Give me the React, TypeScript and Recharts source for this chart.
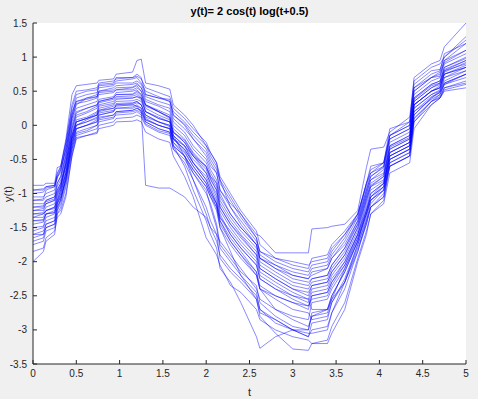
import React from 'react';
import {
  LineChart,
  Line,
  XAxis,
  YAxis,
  CartesianGrid,
} from 'recharts';

// sample times; close pairs give the steep jumps of the runs
const T = [
  0, 0.12, 0.15, 0.25, 0.28, 0.32, 0.38, 0.45,
  0.5, 0.62, 0.74, 0.76, 0.93, 0.96, 1.15, 1.2,
  1.25, 1.3, 1.45, 1.58, 1.62, 1.75, 1.85, 2.0,
  2.05, 2.12, 2.16, 2.28, 2.4, 2.58, 2.62, 2.8,
  3.0, 3.18, 3.22, 3.4, 3.45, 3.6, 3.75, 3.85,
  3.9, 4.05, 4.12, 4.35, 4.4, 4.6, 4.7, 4.75, 5.0,
];

const r1 = [-0.88,-0.88,-0.85,-0.85,-0.62,-0.6,-0.2,0.45, 0.58,0.6,0.62,0.66,0.68,0.75,0.78,0.95, 0.97,0.62,0.58,0.53,0.3,0.15,0.0,-0.3, -0.4,-0.55,-0.8,-1.05,-1.3,-1.65,-1.85,-1.95, -2.05,-2.1,-1.95,-1.9,-1.75,-1.55,-1.3,-0.9, -0.7,-0.6,-0.15,0.0,0.55,0.7,0.72,0.95,1.1];
const r2 = [-1.05,-1.05,-1.0,-0.95,-0.75,-0.7,-0.3,0.2, 0.35,0.4,0.42,0.5,0.52,0.55,0.56,0.6, 0.55,0.42,0.35,0.3,0.1,-0.05,-0.2,-0.45, -0.6,-0.7,-0.95,-1.15,-1.3,-1.6,-1.62,-1.87, -1.87,-1.87,-1.52,-1.5,-1.48,-1.45,-1.25,-0.62, -0.35,-0.32,-0.1,0.12,0.65,0.85,0.9,1.0,1.25];
const r3 = [-1.1,-1.08,-0.95,-0.9,-0.78,-0.65,-0.35,0.15, 0.4,0.45,0.48,0.55,0.58,0.62,0.62,0.65, 0.6,0.45,0.4,0.38,0.15,0.02,-0.15,-0.35, -0.5,-0.65,-0.8,-1.2,-1.4,-1.7,-1.85,-2.0, -2.1,-2.15,-2.05,-2.0,-1.85,-1.6,-1.35,-0.85, -0.6,-0.55,-0.05,0.05,0.7,0.9,0.95,1.15,1.5];
const r4 = [-2.0,-1.85,-1.7,-1.6,-1.3,-1.25,-1.0,-0.45, -0.2,-0.15,-0.1,0.0,0.05,0.1,0.12,0.15, 0.12,0.0,-0.1,-0.15,-0.35,-0.55,-0.8,-1.2, -1.4,-1.6,-1.95,-2.15,-2.3,-2.55,-2.75,-2.85, -3.0,-3.1,-2.9,-2.85,-2.6,-2.25,-1.75,-1.4, -1.15,-0.95,-0.6,-0.45,0.05,0.35,0.45,0.6,0.75];
const r5 = [-1.15,-1.15,-1.1,-1.05,-0.95,-0.85,-0.6,-0.15, 0.05,0.1,0.15,0.22,0.25,0.28,0.3,0.28, 0.2,-0.88,-0.92,-0.92,-0.95,-1.05,-1.2,-1.35, -1.5,-1.6,-1.7,-1.9,-2.1,-2.4,-2.55,-2.7, -2.8,-2.85,-2.6,-2.55,-2.4,-2.1,-1.7,-1.25, -1.05,-0.85,-0.45,-0.3,0.3,0.5,0.55,0.75,0.85];
const r6 = [-1.55,-1.5,-1.4,-1.35,-1.2,-1.1,-0.8,-0.35, -0.1,-0.05,0.0,0.1,0.15,0.2,0.22,0.25, 0.22,0.05,-0.05,-0.1,-0.3,-0.6,-0.95,-1.4, -1.6,-1.8,-2.1,-2.3,-2.6,-3.1,-3.27,-3.1, -3.0,-3.0,-2.8,-2.7,-2.55,-2.3,-1.8,-1.45, -1.2,-1.0,-0.55,-0.4,0.1,0.35,0.4,0.55,0.65];
const r7 = [-1.4,-1.4,-1.3,-1.25,-1.1,-0.95,-0.7,-0.2, 0.0,0.05,0.12,0.18,0.22,0.25,0.27,0.3, 0.25,0.1,0.0,-0.05,-0.25,-0.4,-0.6,-0.85, -1.0,-1.2,-1.5,-1.85,-2.2,-2.55,-2.8,-3.05, -3.28,-3.3,-3.2,-3.2,-3.05,-2.7,-2.0,-1.6, -1.3,-1.1,-0.6,-0.45,0.05,0.3,0.4,0.5,0.55];
const r8 = [-1.3,-1.28,-1.2,-1.15,-1.0,-0.9,-0.55,-0.1, 0.12,0.18,0.25,0.33,0.38,0.42,0.43,0.45, 0.4,0.25,0.15,0.08,-0.15,-0.3,-0.5,-0.7, -0.85,-1.0,-1.25,-1.5,-1.7,-1.95,-2.15,-2.3, -2.45,-2.55,-2.4,-2.35,-2.2,-1.95,-1.55,-1.1, -0.9,-0.8,-0.35,-0.2,0.35,0.55,0.6,0.8,0.9];
const r9 = [-1.0,-0.98,-0.92,-0.9,-0.72,-0.62,-0.25,0.25, 0.45,0.5,0.52,0.58,0.6,0.65,0.68,0.7, 0.62,0.5,0.42,0.35,0.2,0.05,-0.1,-0.3, -0.45,-0.6,-0.85,-1.1,-1.35,-1.65,-1.9,-2.05, -2.2,-2.25,-2.2,-2.1,-1.95,-1.7,-1.35,-0.95, -0.75,-0.62,-0.2,-0.05,0.5,0.7,0.78,0.95,1.2];
const r10 = [-1.6,-1.55,-1.45,-1.4,-1.15,-1.05,-0.75,-0.3, -0.05,0.0,0.05,0.15,0.2,0.3,0.3,0.33, 0.3,0.12,0.05,0.0,-0.25,-0.45,-0.7,-1.0, -1.15,-1.45,-1.75,-1.95,-2.15,-2.35,-2.6,-2.8, -2.95,-3.0,-2.75,-2.7,-2.5,-2.15,-1.7,-1.3, -1.1,-0.95,-0.5,-0.35,0.15,0.4,0.5,0.65,0.8];
const r11 = [-1.75,-1.7,-1.55,-1.5,-1.3,-1.2,-0.9,-0.4, -0.15,-0.1,-0.05,0.05,0.1,0.18,0.2,0.22, 0.18,0.05,-0.05,-0.1,-0.3,-0.45,-0.65,-0.9, -1.05,-1.2,-1.4,-1.7,-1.9,-2.15,-2.35,-2.5, -2.6,-2.7,-2.5,-2.45,-2.3,-2.0,-1.6,-1.25, -1.0,-0.85,-0.45,-0.3,0.25,0.45,0.52,0.7,0.85];
const r12 = [-1.2,-1.18,-1.1,-1.05,-0.85,-0.75,-0.4,0.1, 0.3,0.4,0.45,0.6,0.62,0.7,0.7,0.72, 0.68,0.55,0.48,0.42,0.25,0.1,-0.05,-0.25, -0.4,-0.55,-0.75,-1.0,-1.25,-1.55,-1.75,-1.95, -2.0,-2.05,-2.0,-1.95,-1.8,-1.6,-1.3,-0.85, -0.65,-0.55,-0.15,0.05,0.6,0.8,0.82,1.0,1.3];
const r13 = [-1.45,-1.42,-1.3,-1.28,-1.12,-1.0,-0.7,-0.2, 0.0,0.08,0.15,0.22,0.28,0.32,0.33,0.35, 0.3,0.15,0.05,-0.02,-0.2,-0.35,-0.55,-0.8, -0.95,-1.15,-1.4,-1.65,-1.85,-2.15,-2.4,-2.55, -2.7,-2.75,-2.85,-2.8,-2.6,-2.3,-1.85,-1.45, -1.2,-1.05,-0.5,-0.35,0.2,0.42,0.48,0.62,0.75];
const r14 = [-1.25,-1.25,-1.15,-1.1,-0.95,-0.85,-0.5,0.0, 0.2,0.25,0.3,0.38,0.42,0.48,0.5,0.52, 0.45,0.3,0.22,0.15,-0.05,-0.2,-0.4,-0.6, -0.75,-0.9,-1.15,-1.4,-1.6,-1.85,-2.05,-2.2, -2.35,-2.4,-2.3,-2.25,-2.1,-1.85,-1.45,-1.0, -0.8,-0.7,-0.3,-0.15,0.4,0.6,0.65,0.85,1.0];
const r15 = [-1.35,-1.3,-1.25,-1.22,-1.05,-0.92,-0.6,-0.15, 0.08,0.12,0.2,0.28,0.32,0.38,0.4,0.42, 0.38,0.2,0.1,0.05,-0.2,-0.35,-0.55,-0.75, -0.9,-1.1,-1.35,-1.6,-1.8,-2.05,-2.25,-2.4, -2.55,-2.65,-2.5,-2.45,-2.3,-2.05,-1.6,-1.15, -0.95,-0.82,-0.4,-0.25,0.3,0.5,0.55,0.75,0.88];
const r16 = [-1.7,-1.65,-1.5,-1.45,-1.25,-1.15,-0.85,-0.35, -0.12,-0.08,0.0,0.08,0.12,0.15,0.17,0.2, 0.15,0.02,-0.08,-0.12,-0.35,-0.5,-0.7,-0.95, -1.2,-1.5,-1.8,-2.0,-2.2,-2.45,-2.7,-2.85, -3.0,-3.05,-3.05,-3.0,-2.75,-2.3,-1.75,-1.35, -1.1,-0.9,-0.5,-0.35,0.2,0.38,0.45,0.6,0.7];
const r17 = [-0.95,-0.93,-0.9,-0.88,-0.7,-0.6,-0.25,0.3, 0.5,0.52,0.55,0.62,0.65,0.68,0.7,0.75, 0.7,0.45,0.4,0.35,0.15,0.0,-0.2,-0.4, -0.55,-0.7,-0.95,-1.2,-1.45,-1.75,-1.95,-2.1, -2.25,-2.3,-2.25,-2.2,-2.05,-1.8,-1.4,-1.0, -0.8,-0.65,-0.25,-0.1,0.45,0.65,0.7,0.9,1.05];
const r18 = [-1.5,-1.48,-1.35,-1.3,-1.15,-1.0,-0.7,-0.25, 0.0,0.05,0.1,0.2,0.25,0.3,0.32,0.35, 0.3,0.15,0.05,0.0,-0.2,-0.38,-0.6,-0.85, -1.0,-1.15,-1.45,-1.7,-1.9,-2.2,-2.4,-2.7, -2.85,-2.95,-2.8,-2.75,-2.55,-2.1,-1.65,-1.25, -1.05,-0.9,-0.45,-0.3,0.25,0.45,0.5,0.7,0.8];
const r19 = [-1.2,-1.2,-1.12,-1.08,-0.9,-0.8,-0.45,0.05, 0.25,0.3,0.35,0.45,0.48,0.52,0.55,0.58, 0.5,0.35,0.28,0.2,0.0,-0.15,-0.35,-0.55, -0.7,-0.85,-1.1,-1.35,-1.55,-1.8,-2.0,-2.15, -2.3,-2.35,-2.25,-2.2,-2.05,-1.8,-1.45,-1.05, -0.85,-0.72,-0.3,-0.15,0.4,0.6,0.65,0.85,0.98];
const r20 = [-1.85,-1.8,-1.65,-1.55,-1.35,-1.3,-1.05,-0.45, -0.18,-0.15,-0.12,-0.05,0.0,0.05,0.06,0.08, 0.05,-0.1,-0.2,-0.25,-0.45,-0.75,-1.05,-1.65, -1.75,-1.9,-2.05,-2.35,-2.45,-2.7,-2.85,-3.0, -3.1,-3.15,-3.2,-3.15,-2.95,-2.6,-1.95,-1.55, -1.3,-1.15,-0.7,-0.55,-0.05,0.3,0.4,0.52,0.6];
const r21 = [-1.3,-1.3,-1.25,-1.2,-1.1,-0.95,-0.65,-0.15, 0.05,0.1,0.15,0.25,0.3,0.35,0.36,0.38, 0.35,0.2,0.1,0.05,-0.1,-0.25,-0.45,-0.7, -0.85,-1.05,-1.3,-1.6,-1.8,-2.05,-2.25,-2.4, -2.5,-2.55,-2.7,-2.7,-2.5,-2.15,-1.7,-1.3, -1.05,-0.9,-0.4,-0.25,0.3,0.5,0.55,0.78,0.92];
const r22 = [-1.1,-1.1,-1.05,-1.0,-0.85,-0.75,-0.45,0.1, 0.32,0.35,0.4,0.5,0.55,0.58,0.6,0.62, 0.55,0.38,0.3,0.25,0.05,-0.1,-0.3,-0.5, -0.65,-0.8,-1.0,-1.3,-1.5,-1.75,-1.95,-2.1, -2.2,-2.25,-2.15,-2.1,-1.95,-1.75,-1.4,-0.95, -0.75,-0.6,-0.2,-0.05,0.5,0.7,0.75,0.92,1.1];
const r23 = [-1.6,-1.6,-1.5,-1.45,-1.25,-1.1,-0.75,-0.25, -0.05,0.0,0.08,0.15,0.2,0.25,0.25,0.28, 0.25,0.08,0.0,-0.05,-0.3,-0.45,-0.65,-0.9, -1.05,-1.25,-1.5,-1.75,-1.95,-2.2,-2.4,-2.5, -2.6,-2.65,-2.55,-2.5,-2.35,-2.05,-1.65,-1.3, -1.1,-0.95,-0.55,-0.4,0.15,0.4,0.48,0.62,0.75];
const r24 = [-1.35,-1.35,-1.25,-1.2,-1.02,-0.9,-0.55,-0.05, 0.15,0.2,0.28,0.35,0.4,0.45,0.45,0.48, 0.42,0.28,0.2,0.12,-0.1,-0.25,-0.45,-0.65, -0.8,-0.95,-1.2,-1.45,-1.65,-1.9,-2.1,-2.25, -2.4,-2.45,-2.35,-2.3,-2.15,-1.9,-1.5,-1.1, -0.9,-0.75,-0.35,-0.2,0.35,0.55,0.62,0.8,0.95];
const r25 = [-0.95,-0.95,-0.9,-0.88,-0.75,-0.65,-0.35,0.15, 0.35,0.38,0.42,0.48,0.5,0.52,0.52,0.55, 0.5,0.3,0.2,0.1,-0.15,-0.45,-0.8,-1.3, -1.5,-1.7,-1.9,-2.1,-2.25,-2.5,-2.7,-2.9, -3.0,-3.1,-3.0,-2.95,-2.75,-2.4,-1.85,-1.4, -1.2,-1.05,-0.6,-0.45,0.1,0.35,0.42,0.55,0.62];
const r26 = [-1.65,-1.6,-1.45,-1.4,-1.2,-1.08,-0.8,-0.3, -0.05,0.0,0.05,0.12,0.15,0.2,0.22,0.25, 0.2,0.08,0.0,-0.05,-0.2,-0.3,-0.45,-0.6, -0.75,-0.85,-1.05,-1.3,-1.5,-1.75,-1.95,-2.05, -2.15,-2.2,-2.1,-2.05,-1.9,-1.65,-1.3,-0.85, -0.7,-0.55,-0.15,0.0,0.55,0.75,0.8,1.05,1.2];
const r27 = [-1.4,-1.38,-1.3,-1.28,-1.15,-1.05,-0.8,-0.2, 0.05,0.1,0.18,0.3,0.35,0.4,0.4,0.42, 0.4,0.2,0.12,0.05,-0.15,-0.3,-0.55,-0.8, -0.95,-1.15,-1.35,-1.55,-1.75,-2.0,-2.2,-2.35, -2.5,-2.6,-2.45,-2.4,-2.25,-2.0,-1.6,-1.2, -1.0,-0.85,-0.4,-0.25,0.3,0.5,0.58,0.75,0.85];
const r28 = [-1.25,-1.22,-1.15,-1.1,-0.98,-0.88,-0.55,-0.05, 0.18,0.25,0.3,0.35,0.4,0.45,0.46,0.5, 0.45,0.3,0.2,0.12,-0.1,-0.22,-0.42,-0.62, -0.78,-0.95,-1.2,-1.45,-1.62,-1.9,-2.1,-2.25, -2.4,-2.5,-2.35,-2.3,-2.15,-1.9,-1.5,-1.05, -0.88,-0.75,-0.32,-0.18,0.38,0.58,0.62,0.82,0.95];

const RUNS = [r1, r2, r3, r4, r5, r6, r7, r8, r9, r10, r11, r12, r13, r14, r15, r16, r17, r18, r19, r20, r21, r22, r23, r24, r25, r26, r27, r28];

const X_TICKS = [0, 0.5, 1, 1.5, 2, 2.5, 3, 3.5, 4, 4.5, 5];
const Y_TICKS = [-3.5, -3, -2.5, -2, -1.5, -1, -0.5, 0, 0.5, 1, 1.5];

const TITLE = 'y(t)= 2 cos(t) log(t+0.5)';
const X_LABEL = 't';
const Y_LABEL = 'y(t)';

const rows = T.map((t, i) => {
  const row: Record<string, number> = { t };
  RUNS.forEach((r, k) => {
    row[`r${k + 1}`] = r[i];
  });
  return row;
});

const FONT = '"Liberation Sans", Arial, Helvetica, sans-serif';
const AXIS = '#262626';
const tickStyle = { fill: AXIS, fontSize: 10, fontFamily: FONT };

export default function App() {
  return (
    <div
      style={{
        position: 'absolute',
        left: 0,
        top: 0,
        width: 478,
        height: 399,
        background: '#f0f0f0',
        fontFamily: FONT,
      }}
    >
      <div
        style={{
          position: 'absolute',
          left: 33,
          width: 433,
          top: 5,
          textAlign: 'center',
          fontSize: 11,
          fontWeight: 'bold',
          color: '#000',
        }}
      >
        {TITLE}
      </div>
      <div
        style={{
          position: 'absolute',
          left: 8,
          top: 194,
          transform: 'translate(-50%, -50%) rotate(-90deg)',
          fontSize: 11,
          color: AXIS,
          whiteSpace: 'nowrap',
        }}
      >
        {Y_LABEL}
      </div>
      <LineChart
        width={478}
        height={399}
        data={rows}
        margin={{ top: 23, right: 12, bottom: 15, left: 0 }}
      >
        <CartesianGrid fill="#ffffff" fillOpacity={1} horizontal={false} vertical={false} stroke="none" />
        <XAxis
          dataKey="t"
          type="number"
          domain={[0, 5]}
          ticks={X_TICKS}
          height={20}
          tickSize={-4}
          tickMargin={10}
          tick={tickStyle}
          axisLine={{ stroke: AXIS }}
          tickLine={{ stroke: AXIS }}
          label={{ value: X_LABEL, position: 'insideBottom', offset: -12, fill: AXIS, fontSize: 11, fontFamily: FONT }}
        />
        <XAxis
          xAxisId="top"
          orientation="top"
          dataKey="t"
          type="number"
          domain={[0, 5]}
          ticks={X_TICKS}
          height={0}
          tickSize={-4}
          tick={false}
          axisLine={{ stroke: AXIS }}
          tickLine={{ stroke: AXIS }}
        />
        <YAxis
          type="number"
          domain={[-3.5, 1.5]}
          ticks={Y_TICKS}
          width={33}
          tickSize={-4}
          tickMargin={10}
          tick={tickStyle}
          axisLine={{ stroke: AXIS }}
          tickLine={{ stroke: AXIS }}
        />
        <YAxis
          yAxisId="right"
          orientation="right"
          type="number"
          domain={[-3.5, 1.5]}
          ticks={Y_TICKS}
          width={0}
          tickSize={-4}
          tick={false}
          axisLine={{ stroke: AXIS }}
          tickLine={{ stroke: AXIS }}
        />
        {RUNS.map((_, k) => (
          <Line
            key={k}
            dataKey={`r${k + 1}`}
            type="linear"
            stroke="#0000ff"
            strokeWidth={0.75}
            strokeOpacity={0.62}
            dot={false}
            activeDot={false}
            isAnimationActive={false}
          />
        ))}
      </LineChart>
    </div>
  );
}
